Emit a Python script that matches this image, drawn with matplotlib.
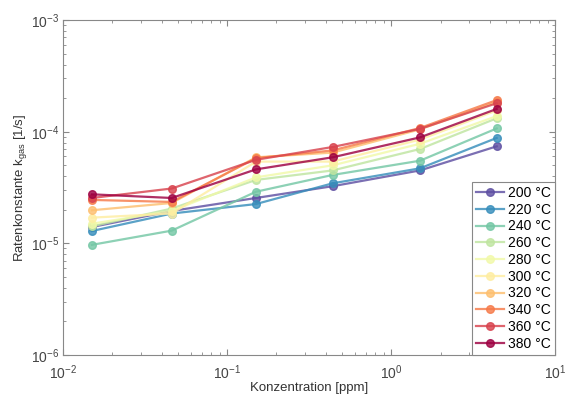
import numpy as np
import matplotlib.pyplot as plt
from matplotlib.ticker import LogLocator, NullFormatter

plt.rcParams['font.family'] = ['Liberation Sans', 'DejaVu Sans']
plt.rcParams['mathtext.fontset'] = 'custom'
plt.rcParams['mathtext.rm'] = 'Liberation Sans'
plt.rcParams['mathtext.it'] = 'Liberation Sans'

# concentration in ppm
konz = [0.015, 0.046, 0.15, 0.44, 1.5, 4.4]

temps = [200, 220, 240, 260, 280, 300, 320, 340, 360, 380]

k200 = [1.40e-5, 1.95e-5, 2.55e-5, 3.25e-5, 4.5e-5, 7.4e-5]
k220 = [1.29e-5, 1.85e-5, 2.25e-5, 3.45e-5, 4.7e-5, 8.8e-5]
k240 = [9.7e-6, 1.30e-5, 2.90e-5, 4.1e-5, 5.5e-5, 1.07e-4]
k260 = [1.42e-5, 2.05e-5, 3.70e-5, 4.5e-5, 7.0e-5, 1.32e-4]
k280 = [1.50e-5, 1.95e-5, 3.90e-5, 5.0e-5, 7.8e-5, 1.38e-4]
k300 = [1.70e-5, 1.85e-5, 5.40e-5, 5.4e-5, 8.5e-5, 1.55e-4]
k320 = [1.98e-5, 2.30e-5, 5.90e-5, 6.5e-5, 1.05e-4, 1.85e-4]
k340 = [2.45e-5, 2.35e-5, 5.80e-5, 6.8e-5, 1.08e-4, 1.92e-4]
k360 = [2.55e-5, 3.10e-5, 5.60e-5, 7.3e-5, 1.06e-4, 1.80e-4]
k380 = [2.75e-5, 2.55e-5, 4.60e-5, 5.9e-5, 8.9e-5, 1.60e-4]

serien = [k200, k220, k240, k260, k280, k300, k320, k340, k360, k380]
farben = plt.cm.Spectral_r(np.linspace(0, 1, len(temps)))

fig = plt.figure(figsize=(5.7, 3.94), dpi=100)
ax = fig.add_axes([0.1105, 0.099, 0.8635, 0.85])

for t, k, c in zip(temps, serien, farben):
    ax.plot(konz, k, '-o', color=c, lw=1.6, ms=5.5, alpha=0.82,
            label=f'{t} °C')

ax.set_xscale('log')
ax.set_yscale('log')
ax.set_xlim(1e-2, 1e1)
ax.set_ylim(1e-6, 1e-3)

ax.xaxis.set_major_locator(LogLocator(base=10, numticks=10))
ax.yaxis.set_major_locator(LogLocator(base=10, numticks=10))
ax.xaxis.set_minor_locator(LogLocator(base=10, subs=np.arange(2, 10), numticks=20))
ax.yaxis.set_minor_locator(LogLocator(base=10, subs=np.arange(2, 10), numticks=20))
ax.xaxis.set_minor_formatter(NullFormatter())
ax.yaxis.set_minor_formatter(NullFormatter())

ax.tick_params(which='both', direction='in', top=True, right=True,
               colors='#888888', labelcolor='#444444', labelsize=10)
ax.tick_params(which='major', length=4, width=0.8)
ax.tick_params(which='minor', length=2.5, width=0.6)
ax.tick_params(axis='x', which='major', pad=6)
ax.tick_params(axis='y', which='major', pad=3)
for s in ax.spines.values():
    s.set_color('#888888')
    s.set_linewidth(0.8)

ax.set_xlabel('Konzentration [ppm]', fontsize=9.5, color='#333333', labelpad=0)
ax.set_ylabel('Ratenkonstante k$_{\\mathrm{gas}}$ [1/s]', fontsize=9.5,
              color='#333333', labelpad=1)

leg = ax.legend(loc='lower right', borderaxespad=0, fontsize=10,
                handlelength=2.0, labelspacing=0.2, handletextpad=0.3,
                borderpad=0.3, fancybox=False, framealpha=1)
leg.get_frame().set_edgecolor('#888888')
leg.get_frame().set_linewidth(0.8)

fig.savefig('out.png', dpi=100)
